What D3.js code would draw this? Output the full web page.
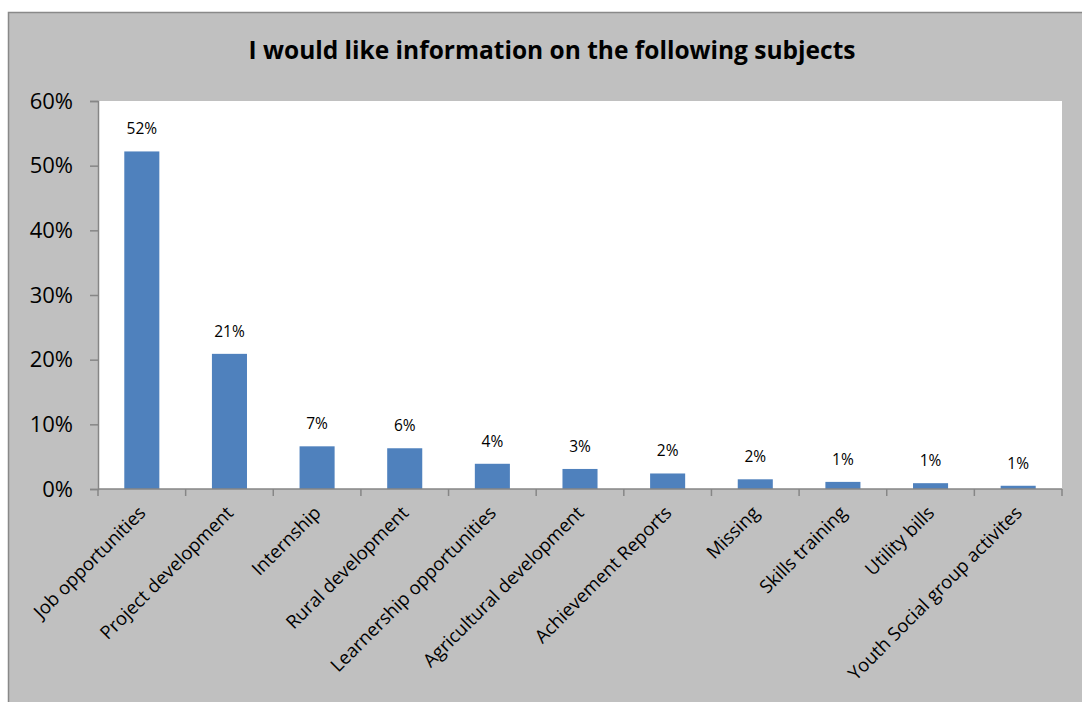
<!DOCTYPE html>
<html>
<head>
<meta charset="utf-8">
<script src="https://cdn.jsdelivr.net/npm/d3@7"></script>
<style>
  html, body { margin: 0; padding: 0; background: #ffffff; }
  svg { display: block; }
</style>
</head>
<body>
<svg id="chart" width="1082" height="702"></svg>
<script>
// Survey responses: share of respondents per requested subject (percent)
const categories = [
  "Job opportunities",
  "Project development",
  "Internship",
  "Rural development",
  "Learnership opportunities",
  "Agricultural development",
  "Achievement Reports",
  "Missing",
  "Skills training",
  "Utility bills",
  "Youth Social group activites"
];
const values = [52.2, 20.9, 6.6, 6.3, 3.9, 3.1, 2.4, 1.5, 1.1, 0.9, 0.5];
const yTicks = [0, 10, 20, 30, 40, 50, 60];
const title = "I would like information on the following subjects";

const svg = d3.select("#chart");
const font = "'Open Sans', 'Liberation Sans', sans-serif";

// chart frame (grey panel with border, running past the page edges)
svg.append("rect")
  .attr("x", 8.5).attr("y", 12.5)
  .attr("width", 1090).attr("height", 720)
  .attr("fill", "#c0c0c0")
  .attr("stroke", "#898989")
  .attr("stroke-width", 1.5);

const plot = { left: 98, top: 101, right: 1062, bottom: 489 };

svg.append("rect")
  .attr("x", plot.left).attr("y", plot.top)
  .attr("width", plot.right - plot.left)
  .attr("height", plot.bottom - plot.top)
  .attr("fill", "#ffffff");

// title
svg.append("text")
  .attr("x", 552).attr("y", 59)
  .attr("text-anchor", "middle")
  .attr("font-family", font)
  .attr("font-weight", "bold")
  .attr("font-size", 24.5)
  .attr("fill", "#000")
  .text(title);

const x = d3.scaleBand()
  .domain(categories)
  .range([plot.left, plot.right])
  .paddingInner(0.6)
  .paddingOuter(0.3);

const y = d3.scaleLinear()
  .domain([0, 60])
  .range([plot.bottom, plot.top]);

// bars
svg.append("g").selectAll("rect")
  .data(values)
  .join("rect")
  .attr("x", (d, i) => x(categories[i]))
  .attr("width", x.bandwidth())
  .attr("y", d => y(d))
  .attr("height", d => y(0) - y(d))
  .attr("fill", "#4f81bd");

// value labels
svg.append("g").selectAll("text")
  .data(values)
  .join("text")
  .attr("x", (d, i) => x(categories[i]) + x.bandwidth() / 2)
  .attr("y", d => y(d) - 17)
  .attr("text-anchor", "middle")
  .attr("font-family", font)
  .attr("font-size", 15.5)
  .attr("fill", "#000")
  .text(d => Math.round(d) + "%");

// y axis
const yAxis = d3.axisLeft(y)
  .tickValues(yTicks)
  .tickFormat(d => d + "%")
  .tickSize(8)
  .tickPadding(17);

const gy = svg.append("g")
  .attr("transform", `translate(${plot.left},0)`)
  .call(yAxis);
gy.select(".domain").attr("stroke", "#868686").attr("stroke-width", 1.5);
gy.selectAll(".tick line").attr("stroke", "#868686").attr("stroke-width", 1.5);
gy.selectAll(".tick text")
  .attr("font-family", font)
  .attr("font-size", 22)
  .attr("fill", "#000");

// x axis: ticks sit on band boundaries
const boundaries = d3.range(categories.length + 1)
  .map(i => plot.left + i * (plot.right - plot.left) / categories.length);
const gx = svg.append("g");
gx.append("line")
  .attr("x1", plot.left).attr("x2", plot.right)
  .attr("y1", plot.bottom).attr("y2", plot.bottom)
  .attr("stroke", "#868686").attr("stroke-width", 1.5);
gx.selectAll("line.tk")
  .data(boundaries)
  .join("line")
  .attr("class", "tk")
  .attr("x1", d => d).attr("x2", d => d)
  .attr("y1", plot.bottom).attr("y2", plot.bottom + 7)
  .attr("stroke", "#868686").attr("stroke-width", 1.5);

gx.selectAll("text")
  .data(categories)
  .join("text")
  .attr("transform", d => `translate(${x(d) + x.bandwidth() / 2 + 5},${plot.bottom + 25}) rotate(-45)`)
  .attr("text-anchor", "end")
  .attr("font-family", font)
  .attr("font-size", 18.5)
  .attr("fill", "#000")
  .text(d => d);
</script>
</body>
</html>
